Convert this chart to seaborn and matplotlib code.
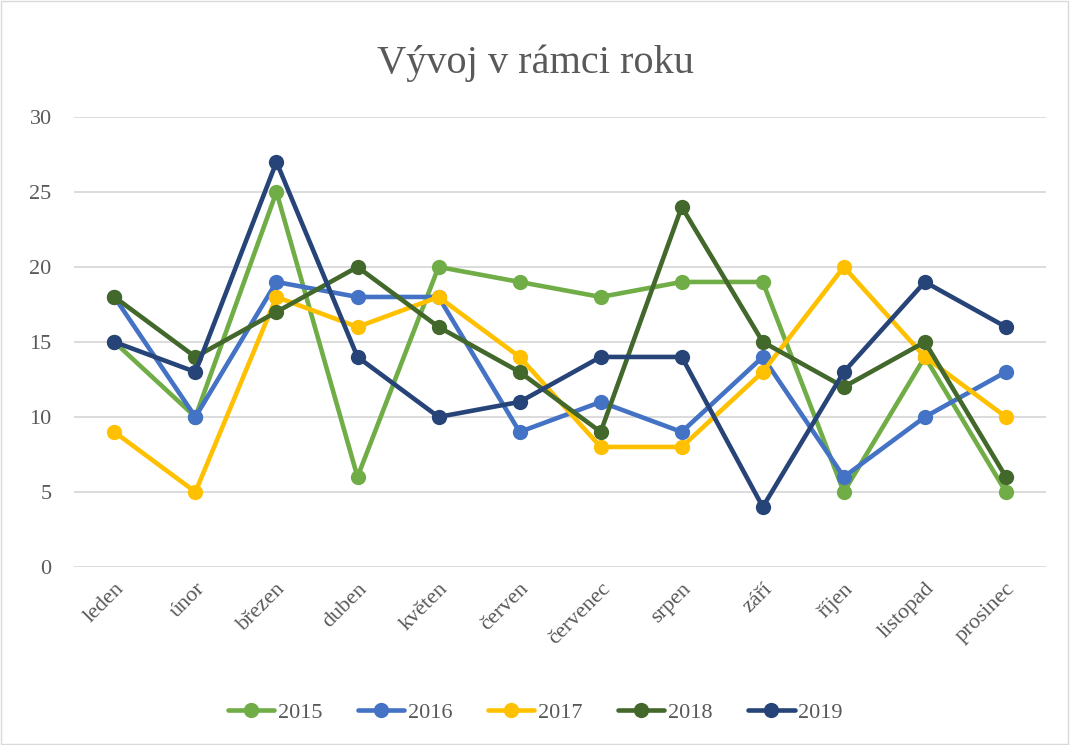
import pandas as pd
import numpy as np
import matplotlib.pyplot as plt
import seaborn as sns
from matplotlib.patches import Rectangle

# data
months = ['leden', 'únor', 'březen', 'duben', 'květen', 'červen',
          'červenec', 'srpen', 'září', 'říjen', 'listopad', 'prosinec']
years = ['2015', '2016', '2017', '2018', '2019']
v2015 = [15, 10, 25, 6, 20, 19, 18, 19, 19, 5, 14, 5]
v2016 = [18, 10, 19, 18, 18, 9, 11, 9, 14, 6, 10, 13]
v2017 = [9, 5, 18, 16, 18, 14, 8, 8, 13, 20, 14, 10]
v2018 = [18, 14, 17, 20, 16, 13, 9, 24, 15, 12, 15, 6]
v2019 = [15, 13, 27, 14, 10, 11, 14, 14, 4, 13, 19, 16]
colors = ['#70AD47', '#4472C4', '#FFC000', '#43682B', '#264478']

# long format for seaborn
rows = []
for y, vals in zip(years, [v2015, v2016, v2017, v2018, v2019]):
    for i, v in enumerate(vals):
        rows.append({'pos': i, 'mesic': months[i], 'rok': y, 'hodnota': v})
df = pd.DataFrame(rows)

sns.set_style('white')
plt.rcParams['font.family'] = ['Liberation Serif', 'DejaVu Serif']
text_col = '#595959'

fig = plt.figure(figsize=(10.7, 7.45), dpi=100)
ax = fig.add_axes([0.069, 0.239, 0.909, 0.604])

sns.lineplot(data=df, x='pos', y='hodnota', hue='rok', hue_order=years,
             palette=dict(zip(years, colors)), marker='o', markersize=11,
             markeredgewidth=0, linewidth=3.3, sort=False, ax=ax, clip_on=False)

ax.set_xlim(-0.5, len(months) - 0.5)
ax.set_ylim(0, 30)
ax.set_yticks(range(0, 31, 5))
ax.set_xticks(range(len(months)))
ax.set_xticklabels(months, rotation=45, ha='right', rotation_mode='anchor')
ax.tick_params(axis='both', length=0, labelsize=16, colors=text_col)
ax.tick_params(axis='y', pad=16)
ax.tick_params(axis='x', pad=9)
ax.grid(axis='y', color='#D9D9D9', linewidth=1.3)
ax.set_axisbelow(True)
for s in ax.spines.values():
    s.set_visible(False)
ax.set_xlabel('')
ax.set_ylabel('')

fig.text(0.5, 0.915, 'Vývoj v rámci roku', ha='center', va='center',
         fontsize=29, color=text_col)

handles, labels = ax.get_legend_handles_labels()
ax.legend_.remove()
fig.legend(handles, labels, loc='center', bbox_to_anchor=(0.5, 0.043),
           ncol=5, frameon=False, fontsize=16, labelcolor=text_col,
           handlelength=2.1, handletextpad=0.15, columnspacing=1.6)

fig.patches.append(Rectangle((0.001, 0.001), 0.997, 0.997, transform=fig.transFigure,
                             fill=False, edgecolor='#D9D9D9', linewidth=1))

plt.savefig('out.png', dpi=100)
